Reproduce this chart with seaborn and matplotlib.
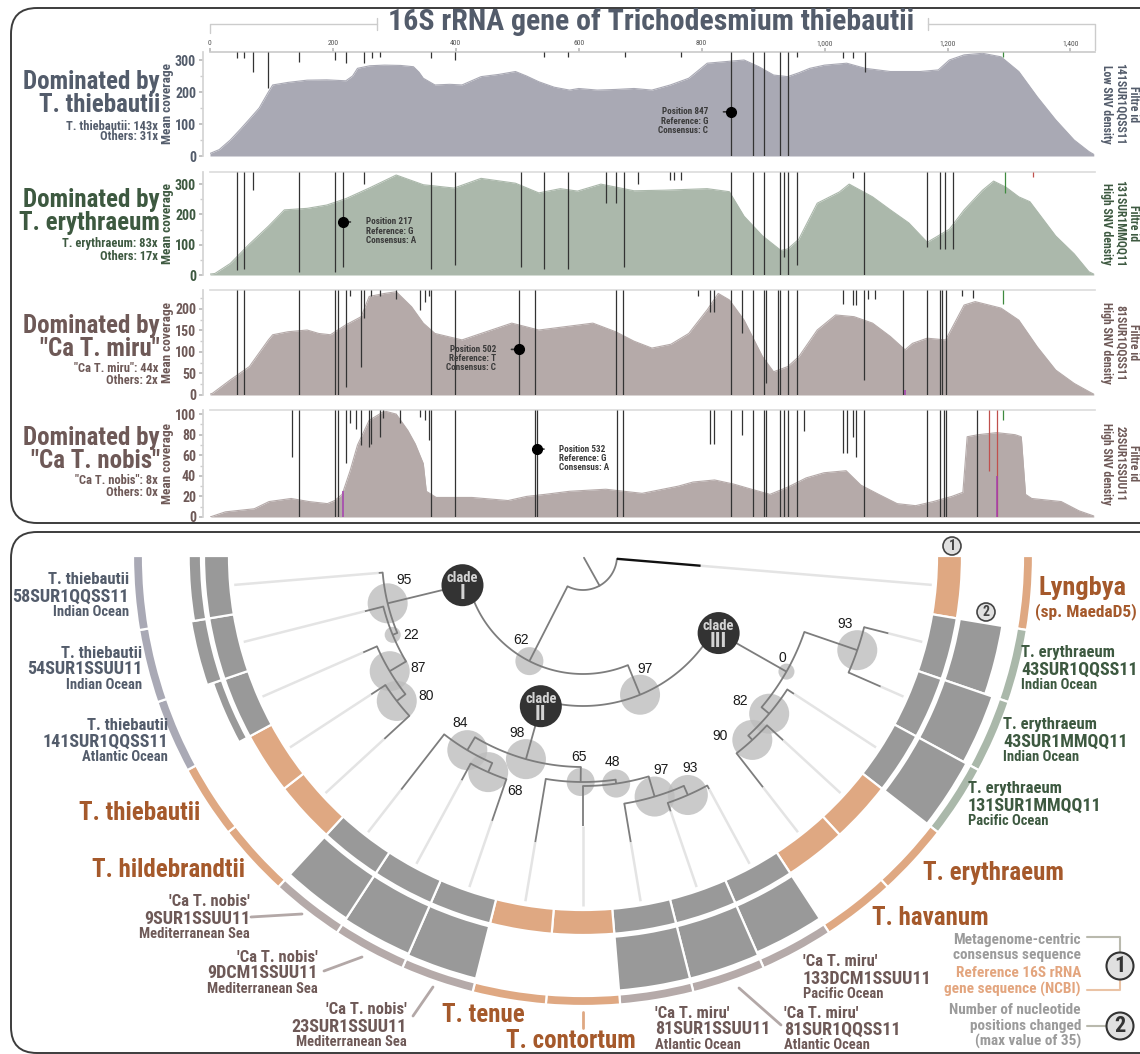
import numpy as np
import pandas as pd
import matplotlib
matplotlib.use("Agg")
import matplotlib.pyplot as plt
import matplotlib.font_manager as fm
from matplotlib.patches import Wedge, Circle, FancyBboxPatch
import seaborn as sns

# ============================ DATA ============================
title = "16S rRNA gene of Trichodesmium thiebautii"
gene_ticks = [0, 200, 400, 600, 800, 1000, 1200, 1400]

p1_pos = [0, 15, 33, 50, 64, 80, 95, 102, 127, 158, 190, 221, 232, 240, 260, 284, 310, 331, 340, 347, 366, 390, 410, 441, 470, 497, 515, 535, 560, 585, 600, 630, 660, 690, 719, 749, 779, 809, 839, 869, 893, 917, 940, 958, 976, 1000, 1036, 1066, 1107, 1155, 1185, 1203, 1227, 1257, 1287, 1316, 1346, 1376, 1406, 1430, 1438]
p1_cov = [8, 20, 50, 85, 115, 150, 200, 222, 230, 237, 238, 235, 250, 274, 282, 284, 283, 279, 262, 243, 222, 224, 222, 248, 255, 264, 250, 232, 215, 206, 211, 206, 208, 211, 206, 222, 243, 290, 295, 300, 279, 253, 248, 260, 274, 284, 290, 274, 264, 264, 269, 300, 316, 321, 310, 264, 185, 113, 50, 14, 5]

p2_pos = [0, 8, 33, 64, 95, 121, 158, 190, 221, 259, 303, 347, 397, 441, 497, 535, 570, 598, 636, 690, 740, 809, 845, 869, 899, 929, 940, 958, 988, 1024, 1040, 1078, 1107, 1137, 1167, 1203, 1227, 1257, 1275, 1295, 1316, 1334, 1376, 1406, 1430, 1438]
p2_cov = [3, 5, 38, 102, 161, 215, 220, 231, 252, 287, 330, 298, 287, 319, 303, 271, 285, 277, 300, 278, 280, 285, 275, 194, 129, 81, 86, 118, 237, 274, 300, 258, 215, 172, 108, 151, 215, 280, 310, 290, 258, 242, 129, 70, 11, 3]

p3_pos = [0, 4, 33, 64, 95, 102, 127, 158, 177, 196, 221, 246, 259, 284, 303, 328, 347, 366, 410, 441, 491, 535, 579, 623, 660, 690, 719, 750, 779, 809, 827, 845, 869, 899, 917, 940, 958, 988, 1018, 1048, 1078, 1107, 1131, 1143, 1167, 1197, 1227, 1245, 1287, 1316, 1346, 1376, 1406, 1430, 1438]
p3_cov = [2, 4, 35, 66, 128, 140, 147, 151, 143, 140, 163, 182, 229, 236, 240, 205, 167, 143, 128, 143, 167, 151, 159, 167, 147, 125, 109, 118, 143, 198, 236, 221, 174, 89, 54, 66, 89, 151, 186, 182, 167, 136, 105, 120, 132, 128, 209, 217, 202, 174, 112, 58, 27, 8, 2]

p4_pos = [0, 25, 72, 96, 132, 161, 191, 203, 215, 228, 240, 259, 284, 303, 322, 334, 347, 352, 368, 426, 485, 515, 545, 585, 644, 703, 762, 786, 821, 852, 881, 911, 940, 970, 999, 1035, 1059, 1088, 1118, 1148, 1177, 1207, 1225, 1232, 1250, 1280, 1310, 1320, 1327, 1337, 1385, 1414, 1438]
p4_cov = [0, 5, 8, 15, 18, 15, 13, 16, 22, 45, 70, 94, 103, 100, 84, 71, 52, 25, 19, 19, 16, 20, 22, 25, 27, 23, 30, 34, 36, 32, 27, 22, 29, 38, 43, 45, 31, 22, 13, 11, 15, 20, 24, 78, 80, 82, 80, 78, 22, 18, 15, 6, 1]

# SNV lines: position and the coverage value where the line (hanging from the top) ends
p1_snv_pos = [44, 55, 70, 94, 145, 203, 221, 250, 263, 277, 360, 399, 543, 583, 675, 766, 847, 884, 901, 928, 940, 955, 1030, 1046, 1066, 1290]
p1_snv_end = [305, 305, 263, 211, 295, 300, 292, 290, 305, 310, 305, 300, 310, 310, 310, 310, 0, 0, 0, 0, 0, 310, 305, 305, 264, 310]
p2_snv_pos = [44, 55, 70, 145, 203, 217, 250, 360, 399, 506, 543, 583, 645, 661, 673, 696, 749, 755, 766, 847, 884, 901, 928, 934, 940, 955, 1046, 1064, 1167, 1188, 1196, 1209, 1293, 1339]
p2_snv_end = [16, 21, 282, 10, 10, 27, 300, 21, 32, 27, 21, 21, 237, 237, 27, 300, 315, 315, 315, 0, 0, 0, 0, 60, 0, 32, 320, 0, 92, 86, 86, 86, 270, 325]
p3_snv_pos = [44, 55, 145, 203, 208, 221, 228, 246, 250, 262, 276, 303, 341, 350, 357, 360, 399, 502, 528, 660, 672, 794, 813, 820, 847, 865, 884, 901, 904, 925, 928, 940, 955, 1030, 1046, 1051, 1064, 1071, 1082, 1128, 1167, 1188, 1191, 1197, 1223, 1241, 1290]
p3_snv_end = [0, 0, 0, 0, 0, 19, 230, 66, 178, 229, 229, 222, 198, 217, 229, 0, 0, 0, 0, 0, 0, 229, 194, 194, 0, 143, 0, 0, 27, 0, 0, 0, 0, 212, 209, 209, 35, 223, 223, 0, 0, 0, 0, 0, 230, 226, 212]
p4_snv_pos = [133, 145, 203, 208, 221, 228, 237, 246, 258, 262, 276, 281, 309, 341, 350, 357, 360, 399, 528, 532, 663, 672, 813, 820, 847, 865, 884, 901, 904, 928, 934, 940, 955, 967, 1030, 1036, 1046, 1051, 1064, 1167, 1188, 1194, 1198, 1248, 1268, 1280, 1290]
p4_snv_end = [58, 0, 0, 0, 52, 91, 86, 70, 68, 71, 78, 96, 91, 97, 94, 75, 0, 0, 0, 0, 0, 0, 71, 71, 0, 80, 0, 0, 0, 0, 0, 0, 0, 84, 62, 62, 78, 58, 0, 0, 0, 0, 0, 0, 45, 0, 94]
snv_kind = {1290: "green", 1293: "green", 1339: "red", 1268: "red", 1280: "red"}
# short marks rising from the baseline
p3_low_pos, p3_low_top = [1131], [12]
p4_low_pos, p4_low_top = [216, 1280], [25, 40]

marker_pos = [847, 217, 502, 532]
marker_val = [138, 175, 106, 66]
marker_ref = ["G", "G", "T", "G"]
marker_cons = ["C", "A", "C", "A"]

dominant = ["T. thiebautii", "T. erythraeum", '"Ca T. miru"', '"Ca T. nobis"']
dominant_cov = ["T. thiebautii: 143x", "T. erythraeum: 83x", '"Ca T. miru": 44x', '"Ca T. nobis": 8x']
others_cov = ["Others: 31x", "Others: 17x", "Others: 2x", "Others: 0x"]
filtre_id = ["141SUR1QQSS11", "131SUR1MMQQ11", "81SUR1QQSS11", "23SUR1SSUU11"]
snv_density = ["Low SNV density", "High SNV density", "High SNV density", "High SNV density"]
y_max = [325, 340, 244, 104]
y_ticks = [[0, 100, 200, 300], [0, 100, 200, 300], [0, 50, 100, 150, 200], [0, 20, 40, 60, 80, 100]]

# ---- tree / rings ----
leaf_names = ["Lyngbya", "T. erythraeum", "T. erythraeum", "T. erythraeum", "T. erythraeum", "T. havanum",
              "'Ca T. miru'", "'Ca T. miru'", "'Ca T. miru'", "T. contortum", "T. tenue",
              "'Ca T. nobis'", "'Ca T. nobis'", "'Ca T. nobis'", "T. hildebrandtii", "T. thiebautii",
              "T. thiebautii", "T. thiebautii", "T. thiebautii"]
leaf_ids = ["(sp. MaedaD5)", "43SUR1QQSS11", "43SUR1MMQQ11", "131SUR1MMQQ11", "", "",
            "133DCM1SSUU11", "81SUR1QQSS11", "81SUR1SSUU11", "", "",
            "23SUR1SSUU11", "9DCM1SSUU11", "9SUR1SSUU11", "", "",
            "141SUR1QQSS11", "54SUR1SSUU11", "58SUR1QQSS11"]
leaf_ocean = ["", "Indian Ocean", "Indian Ocean", "Pacific Ocean", "", "",
              "Pacific Ocean", "Atlantic Ocean", "Atlantic Ocean", "", "",
              "Mediterranean Sea", "Mediterranean Sea", "Mediterranean Sea", "", "",
              "Atlantic Ocean", "Indian Ocean", "Indian Ocean"]
leaf_group = ["ref", "ery", "ery", "ery", "ref", "ref", "miru", "miru", "miru", "ref", "ref",
              "nobis", "nobis", "nobis", "ref", "ref", "thie", "thie", "thie"]
positions_changed = [np.nan, 28, 33, 35, np.nan, np.nan, 33, 35, 35, np.nan, np.nan,
                     35, 34, 33, np.nan, np.nan, 6, 10, 8]
leaf_tip_depth = [118, 315, 325, 252, 272, 293, 265, 270, 290, 270, 290, 280, 255, 296, 270, 253, 240, 225, 205]

tree_children = {
    "root": ("L0", "N62"), "N62": ("N97", "N95"), "N97": ("N0", "N98"),
    "N95": ("N22", "L18"), "N22": ("N87", "L17"), "N87": ("N80", "L16"), "N80": ("L14", "L15"),
    "N98": ("N65", "N84"), "N84": ("N68", "L13"), "N68": ("L11", "L12"),
    "N65": ("N48", "L10"), "N48": ("N97b", "L9"), "N97b": ("N93b", "L8"), "N93b": ("L6", "L7"),
    "N0": ("N93", "N82"), "N93": ("L1", "L2"), "N82": ("L3", "N90"), "N90": ("L4", "L5"),
}
node_depth = {"root": 34, "N62": 118, "N97": 150, "N95": 201, "N22": 206, "N87": 225, "N80": 236,
              "N98": 211, "N84": 226, "N68": 236, "N65": 226, "N48": 230, "N97b": 251, "N93b": 261,
              "N0": 234, "N93": 290, "N82": 244, "N90": 250}
bootstrap = {"N62": 62, "N97": 97, "N95": 95, "N22": 22, "N87": 87, "N80": 80, "N98": 98, "N84": 84,
             "N68": 68, "N65": 65, "N48": 48, "N97b": 97, "N93b": 93, "N0": 0, "N93": 93, "N82": 82, "N90": 90}
clades = {"N95": "I", "N98": "II", "N0": "III"}

# ============================ STYLE ============================
sns.set_theme(style="white")


def pick_condensed():
    names = {f.name for f in fm.fontManager.ttflist}
    for cand in ["Liberation Sans Narrow", "Roboto Condensed", "Open Sans Condensed",
                 "Noto Sans Condensed", "DejaVu Sans Condensed", "Arial Narrow"]:
        if cand in names:
            return cand, "normal"
    for f in fm.fontManager.ttflist:
        st = f.stretch
        if isinstance(st, str) and st in ("condensed", "extra-condensed", "semi-condensed"):
            return f.name, "condensed"
    return "DejaVu Sans", "condensed"


CF, CS = pick_condensed()
plt.rcParams["font.family"] = [CF, "DejaVu Sans"]

SLATE, GREEN, BROWN, REFC = "#535c6b", "#3d5940", "#6e5957", "#a5592b"
ORANGE, GREY = "#dfa882", "#999999"
outer_col = {"ref": ORANGE, "ery": "#aab8aa", "miru": "#b5aaa9", "nobis": "#b5aaa9", "thie": "#a9a9b5"}
text_col = {"ref": REFC, "ery": GREEN, "miru": BROWN, "nobis": BROWN, "thie": SLATE}
fills = ["#a9a9b4", "#abb8ab", "#b5aaa9", "#b5aaa9"]
pcols = [SLATE, GREEN, BROWN, BROWN]
line_kind_col = {"k": "#333333", "green": "#3f8a3f", "red": "#c0504d", "purple": "#a53fb0"}

W, H = 1140, 1054
fig = plt.figure(figsize=(W / 100, H / 100), dpi=100)
bg = fig.add_axes([0, 0, 1, 1])
bg.set_xlim(0, W)
bg.set_ylim(H, 0)
bg.axis("off")


def tx(ax, x, y, s, size, color, ha="center", va="center", weight="bold", rot=0, cond=True, **kw):
    if cond:
        kw.update(family=[CF, "DejaVu Sans"], fontstretch=CS)
    else:
        kw.update(family=["Liberation Sans", "DejaVu Sans"])
    return ax.text(x, y, s, fontsize=size, color=color, ha=ha, va=va, fontweight=weight, rotation=rot, **kw)


def px_axes(x0, y0, x1, y1):
    return fig.add_axes([x0 / W, 1 - y1 / H, (x1 - x0) / W, (y1 - y0) / H])


# boxes
for (y0, y1) in [(8, 523), (532, 1053)]:
    bg.add_patch(FancyBboxPatch((11, y0), 1160, y1 - y0, boxstyle="round,pad=0,rounding_size=26",
                                fc="none", ec="#3c3c3c", lw=1.4, zorder=0))

# title with bracket lines
tx(bg, 651, 22, title, 21.5, SLATE)
bg.plot([210, 210, 377], [33, 24, 24], color="#cccccc", lw=1)
bg.plot([377, 377], [18, 30], color="#cccccc", lw=1)
bg.plot([928, 1095, 1095], [24, 24, 50], color="#cccccc", lw=1)
bg.plot([928, 928], [18, 30], color="#cccccc", lw=1)

# ============================ TOP PANELS ============================
boxes = [(52, 156), (172, 275), (290, 395), (410, 517)]
cov_data = [(p1_pos, p1_cov), (p2_pos, p2_cov), (p3_pos, p3_cov), (p4_pos, p4_cov)]
snv_data = [(p1_snv_pos, p1_snv_end), (p2_snv_pos, p2_snv_end), (p3_snv_pos, p3_snv_end), (p4_snv_pos, p4_snv_end)]
low_data = [([], []), ([], []), (p3_low_pos, p3_low_top), (p4_low_pos, p4_low_top)]
tick_fp = dict(family=[CF, "DejaVu Sans"], stretch=CS, weight="bold", size=10)

for i in range(4):
    y0, y1 = boxes[i]
    ax = px_axes(210, y0, 1095, y1)
    ax.set_facecolor("none")
    pos, cov = cov_data[i]
    df = pd.DataFrame({"pos": pos, "cov": cov})
    sns.lineplot(data=df, x="pos", y="cov", ax=ax, color=fills[i], lw=0.8)
    ax.fill_between(df["pos"], df["cov"], color=fills[i], lw=0, zorder=1)
    ax.set_xlim(0, 1440)
    ax.set_ylim(0, y_max[i])
    sp, se = snv_data[i]
    for p, e in zip(sp, se):
        c = line_kind_col[snv_kind.get(p, "k")]
        ax.vlines(p, e, y_max[i], color=c, lw=0.9, zorder=3)
    lp, lt = low_data[i]
    for p, t in zip(lp, lt):
        ax.vlines(p, 0, t, color=line_kind_col["purple"], lw=1.1, zorder=4)
    # marker
    mp, mv = marker_pos[i], marker_val[i]
    ax.plot([mp], [mv], "o", color="black", ms=7, zorder=6)
    side = -1 if i in (0, 2) else 1
    ax.annotate("", xy=(mp, mv), xytext=(mp + side * 16, mv),
                arrowprops=dict(arrowstyle="-", color="#333333", lw=1.2), zorder=5)
    lines = [f"Position {mp}", f"Reference: {marker_ref[i]}", f"Consensus: {marker_cons[i]}"]
    for k, s in enumerate(lines):
        ax.annotate(s, xy=(mp, mv), xytext=(side * 16, -k * 6.6), textcoords="offset points",
                    ha="left" if side > 0 else "right", va="center", fontsize=6.6, fontweight="bold",
                    color="#3a3a3a", family=[CF, "DejaVu Sans"], fontstretch=CS, zorder=6)
    # axes styling
    for s in ["right", "bottom"]:
        ax.spines[s].set_visible(False)
    ax.spines["left"].set_color("#d4d4d4")
    ax.spines["left"].set_position(("outward", 5))
    ax.spines["top"].set_color("#dddddd")
    ax.set_yticks(y_ticks[i])
    step = y_ticks[i][1] - y_ticks[i][0]
    ax.set_yticks(np.arange(step / 2, y_max[i], step), minor=True)
    ax.tick_params(axis="y", which="major", length=3, color="#bbbbbb", pad=2, left=True)
    ax.tick_params(axis="y", which="minor", length=2, color="#cccccc", left=True)
    for lab in ax.get_yticklabels():
        lab.set_fontproperties(fm.FontProperties(**tick_fp))
        lab.set_color(pcols[i])
    ax.set_xlabel("")
    ax.set_ylabel("")
    if i == 0:
        ax.xaxis.tick_top()
        ax.set_xticks(gene_ticks)
        ax.set_xticklabels([f"{t:,}" for t in gene_ticks])
        ax.tick_params(axis="x", which="major", length=3, color="#bbbbbb", labelsize=5.5,
                       labelcolor="#555555", pad=1, top=True)
        ax.spines["top"].set_color("#cccccc")
    else:
        ax.set_xticks([])
    yc = (y0 + y1) / 2
    tx(bg, 168, yc, "Mean coverage", 9.5, pcols[i], rot=90)
    tx(bg, 1120, yc, f"Filtre id\n{filtre_id[i]}\n{snv_density[i]}",
       8.5, pcols[i], rot=-90, linespacing=1.0, multialignment="center")

label_y = [(82, 105, 126, 137), (200, 223, 244, 256), (326, 349, 369, 380), (438, 461, 481, 493)]
for i in range(4):
    a, b, c, d = label_y[i]
    tx(bg, 160, a, "Dominated by", 18, pcols[i], ha="right")
    tx(bg, 160, b, dominant[i], 18, pcols[i], ha="right")
    tx(bg, 158, c, dominant_cov[i], 9, pcols[i], ha="right")
    tx(bg, 158, d, others_cov[i], 9, pcols[i], ha="right")

# ============================ TREE & RINGS ============================
cx, cy = 583, 556
n = len(leaf_names)
astep = 180 / n
R_EXT = 350


def polar(r, a):
    t = np.deg2rad(a)
    return cx + r * np.cos(t), cy + r * np.sin(t)


angle = {f"L{i}": (i + 0.5) * astep for i in range(n)}


def get_angle(node):
    if node not in angle:
        a, b = tree_children[node]
        angle[node] = (get_angle(a) + get_angle(b)) / 2
    return angle[node]


for k in tree_children:
    get_angle(k)
radius = {**{f"L{i}": leaf_tip_depth[i] for i in range(n)}, **node_depth}
parent = {c: p for p, cs in tree_children.items() for c in cs}

# rings
for i in range(n):
    a0, a1 = i * astep, (i + 1) * astep
    g = leaf_group[i]
    bg.add_patch(Wedge((cx, cy), 379, a0, a1, width=25, fc=ORANGE if g == "ref" else GREY,
                       ec="white", lw=1.6, zorder=2))
    v = positions_changed[i]
    if not np.isnan(v):
        h = v / 35 * 54
        bg.add_patch(Wedge((cx, cy), 382 + h, a0, a1, width=h, fc=GREY, ec="white", lw=1.6, zorder=2))
    bg.add_patch(Wedge((cx, cy), 450, a0, a1, width=10, fc=outer_col[g], ec="white", lw=1.6, zorder=2))

# light leaf extensions
for i in range(n):
    a = angle[f"L{i}"]
    x0_, y0_ = polar(leaf_tip_depth[i], a)
    x1_, y1_ = polar(R_EXT, a)
    bg.plot([x0_, x1_], [y0_, y1_], color="#e4e4e4", lw=1.8, zorder=1, solid_capstyle="butt")


def bs_radius(v):
    return 8 if v < 30 else (14 if v < 67 else 20)


for node, v in bootstrap.items():
    bg.add_patch(Circle(polar(node_depth[node], angle[node]), bs_radius(v), fc="#bdbdbd",
                        alpha=0.8, ec="none", zorder=2.5))

# branches
TREE_C = "#7d7d7d"
for node, (a, b) in tree_children.items():
    r = node_depth[node]
    th = np.linspace(min(angle[a], angle[b]), max(angle[a], angle[b]), 80)
    xs, ys = polar(r, th)
    bg.plot(xs, ys, color=TREE_C, lw=1.3, zorder=3)
    for c in (a, b):
        xa, ya = polar(r, angle[c])
        xb, yb = polar(radius[c], angle[c])
        col, lw = ("#111111", 1.7) if c == "L0" else (TREE_C, 1.3)
        bg.plot([xa, xb], [ya, yb], color=col, lw=lw, zorder=3, solid_capstyle="butt")
xa, ya = polar(2, angle["root"])
xb, yb = polar(node_depth["root"], angle["root"])
bg.plot([xa, xb], [ya, yb], color=TREE_C, lw=1.3, zorder=3)

bs_offset = {"N95": (16, -23), "N22": (18, 0), "N87": (28, -3), "N80": (29, -5), "N62": (-8, -21),
             "N97": (5, -26), "N84": (-7, -27), "N68": (27, 19), "N98": (-9, -26), "N65": (-2, -25),
             "N48": (-4, -22), "N97b": (6, -27), "N93b": (2, -27), "N0": (-4, -14), "N82": (-29, -13),
             "N90": (-32, -4), "N93": (-12, -26)}
for node, v in bootstrap.items():
    x, y = polar(node_depth[node], angle[node])
    dx, dy = bs_offset[node]
    tx(bg, x + dx, y + dy, str(v), 10, "#1a1a1a", weight="normal", cond=False, zorder=6)

for node, lab in clades.items():
    x, y = polar(node_depth[parent[node]] + 6, angle[node])
    bg.add_patch(Circle((x, y), 21, fc="#333333", ec="none", zorder=5))
    tx(bg, x, y - 7, "clade", 10.5, "#d4d4d4", zorder=6)
    tx(bg, x, y + 8, lab, 15, "#d4d4d4", zorder=6)

# ring markers
for (x, y, s) in [(952, 546, "1"), (986, 612, "2")]:
    bg.add_patch(Circle((x, y), 9, fc="#e0e0e0", ec="#444444", lw=1.2, zorder=5))
    tx(bg, x, y + 0.5, s, 10, "#444444", zorder=6)

# leaf labels
label_layout = {
    0: (1083, 588, "center"), 1: (1021, 653, "left"), 2: (1003, 725, "left"), 3: (968, 789, "left"),
    4: (923, 873, "left"), 5: (872, 918, "left"), 6: (803, 962, "left"), 7: (784, 1013, "left"),
    8: (655, 1013, "left"), 9: (571, 1041, "center"), 10: (442, 1015, "left"), 11: (407, 1010, "right"),
    12: (318, 957, "right"), 13: (250, 902, "right"), 14: (245, 870, "right"), 15: (200, 813, "right"),
    16: (168, 725, "right"), 17: (142, 653, "right"), 18: (129, 580, "right"),
}
for i in range(n):
    x, y, ha = label_layout[i]
    col = text_col[leaf_group[i]]
    if i == 0:
        tx(bg, x, y, leaf_names[i], 19, col, ha=ha)
        tx(bg, x + 3, y + 24, leaf_ids[i], 12.5, col, ha=ha)
    elif leaf_group[i] == "ref":
        tx(bg, x, y, leaf_names[i], 18, col, ha=ha)
    else:
        tx(bg, x, y, leaf_names[i], 12, col, ha=ha)
        tx(bg, x, y + 16.5, leaf_ids[i], 13, col, ha=ha)
        tx(bg, x, y + 32, leaf_ocean[i], 10.5, col, ha=ha)

leader = [((739, 988), (781, 1025)), ((413, 1016), (433, 987)), ((324, 971), (362, 957)),
          ((251, 917), (302, 914))]
for (a, b) in leader:
    bg.plot([a[0], b[0]], [a[1], b[1]], color="#b3a8a7", lw=2, zorder=2)
bg.plot([583, 583], [1012, 1028], color=ORANGE, lw=2, zorder=2)

# legend
LG = "#9b9b9b"
for s, y, c in [("Metagenome-centric", 940, LG), ("consensus sequence", 955, LG),
                ("Reference 16S rRNA", 973, "#e3a57e"), ("gene sequence (NCBI)", 989, "#e3a57e"),
                ("Number of nucleotide", 1010, LG), ("positions changed", 1026, LG),
                ("(max value of 35)", 1041, LG)]:
    tx(bg, 1081, y, s, 11, c, ha="right")
bg.plot([1087, 1120, 1120], [937, 937, 952], color="#b9b9ad", lw=1.5)
bg.plot([1087, 1120, 1120], [990, 990, 980], color="#eac3a5", lw=1.5)
bg.plot([1087, 1107], [1026, 1026], color="#b9b9ad", lw=1.5)
for (x, y, s) in [(1120, 966, "1"), (1120, 1026, "2")]:
    bg.add_patch(Circle((x, y), 13.5, fc="#e0e0e0", ec="#333333", lw=1.5, zorder=5))
    tx(bg, x, y + 0.5, s, 16, "#333333", zorder=6)

fig.savefig("out.png", dpi=100)
